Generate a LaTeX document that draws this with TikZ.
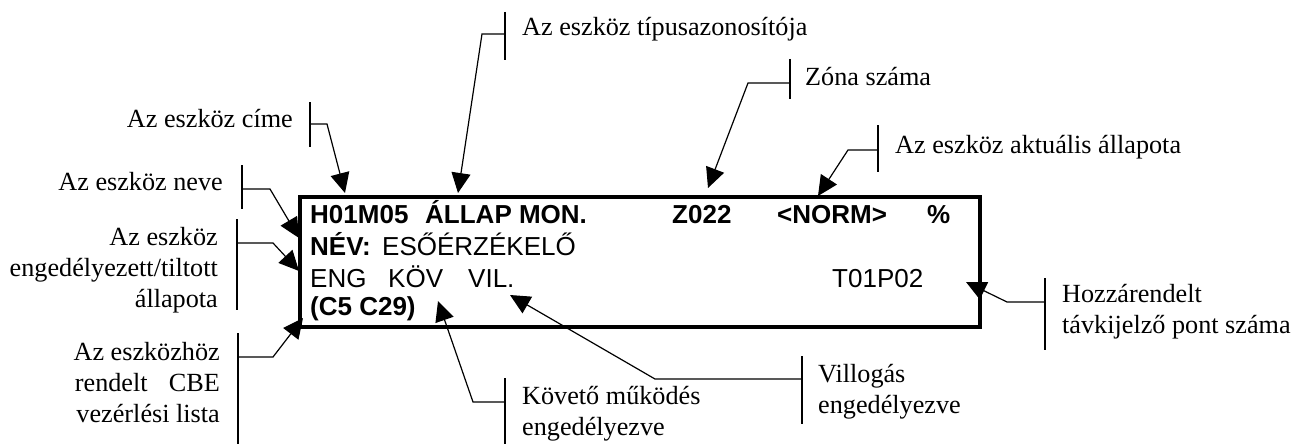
\documentclass[tikz,border=0pt]{standalone}
\usepackage{fontspec}
\usetikzlibrary{arrows.meta}
\newfontfamily\labfont{Liberation Serif}
\newfontfamily\dispfont{Liberation Sans}
\tikzset{
  lbl/.style={font=\labfont\fontsize{26.2}{31}\selectfont, inner sep=0pt},
  lbll/.style={lbl, anchor=base west, align=left},
  lblr/.style={lbl, anchor=base east, align=right},
  disp/.style={font=\dispfont\fontsize{26}{31}\selectfont, inner sep=0pt, anchor=base west},
  dispb/.style={disp, font=\dispfont\bfseries\fontsize{26}{31}\selectfont},
  brk/.style={line width=1.3pt},
  con/.style={line width=1.2pt, -{Triangle[length=20pt,width=19pt]}},
  screen/.style={draw, line width=3.5pt, minimum width=680pt, minimum height=130pt, inner sep=0pt}
}
\begin{document}
\begin{tikzpicture}[x=1pt,y=-1pt]
\useasboundingbox (0,0) rectangle (1296,444);

% display box
\node[screen] (box) at (640,262) {};
\node[dispb] (l1a) at (310,223) {H01M05};
\node[dispb] (l1b) at (425,223) {ÁLLAP MON.};
\node[dispb] (l1c) at (672,223) {Z022};
\node[dispb] (l1d) at (777,223) {<NORM>};
\node[dispb] (l1e) at (927,223) {\%};
\node[dispb] (l2a) at (310,255) {NÉV:};
\node[disp]  (l2b) at (382,255) {ESŐÉRZÉKELŐ};
\node[disp]  (l3a) at (310,287) {ENG};
\node[disp]  (l3b) at (388,287) {KÖV};
\node[disp]  (l3c) at (468,287) {VIL.};
\node[disp]  (l3d) at (832,287) {T01P02};
\node[dispb] (l4a) at (310,315) {(C5 C29)};

% labels (multi-line nodes: base = baseline of the last line)
\node[lblr] (cime) at (293,127) {Az eszköz címe};
\node[lblr] (neve) at (223,190) {Az eszköz neve};
\node[lblr] (eng) at (218,307) {Az eszköz\\engedélyezett/tiltott\\állapota};
\node[lblr] (cbe) at (220,422) {Az eszközhöz\\rendelt\hspace{21.2pt}CBE\\vezérlési lista};
\node[lbll] (tipus) at (522,36) {Az eszköz típusazonosítója};
\node[lbll] (zona) at (805,85) {Zóna száma};
\node[lbll] (allapot) at (895,153) {Az eszköz aktuális állapota};
\node[lbll] (tav) at (1062,333) {Hozzárendelt\\távkijelző pont száma};
\node[lbll] (kov) at (522,435) {Követő működés\\engedélyezve};
\node[lbll] (vil) at (818,413) {Villogás\\engedélyezve};

% coordinates: bracket ends, joints, bends, tips
\coordinate (cimeT) at (310,102); \coordinate (cimeB) at (310,147);
\coordinate (cimeJ) at (310,124); \coordinate (cimeK) at (327,124); \coordinate (cimeP) at (345,193);
\coordinate (neveT) at (242,165); \coordinate (neveB) at (242,209);
\coordinate (neveJ) at (242,189); \coordinate (neveK) at (270,189); \coordinate (neveP) at (299,238);
\coordinate (engT) at (237,219); \coordinate (engB) at (237,310);
\coordinate (engJ) at (237,243); \coordinate (engK) at (273,243); \coordinate (engP) at (299,271);
\coordinate (cbeT) at (238,333); \coordinate (cbeB) at (238,444);
\coordinate (cbeJ) at (238,357); \coordinate (cbeK) at (273,357); \coordinate (cbeP) at (303,318);
\coordinate (tipT) at (505,12); \coordinate (tipB) at (505,60);
\coordinate (tipJ) at (505,34); \coordinate (tipK) at (482,34); \coordinate (tipP) at (458,193);
\coordinate (zonT) at (790,59); \coordinate (zonB) at (790,99);
\coordinate (zonJ) at (790,83); \coordinate (zonK) at (748,83); \coordinate (zonP) at (708,188);
\coordinate (allT) at (878,125); \coordinate (allB) at (878,172);
\coordinate (allJ) at (878,150); \coordinate (allK) at (848,150); \coordinate (allP) at (818,196);
\coordinate (tavT) at (1045,278); \coordinate (tavB) at (1045,350);
\coordinate (tavJ) at (1045,302); \coordinate (tavK) at (1007,302); \coordinate (tavP) at (966,282);
\coordinate (kovT) at (505,378); \coordinate (kovB) at (505,444);
\coordinate (kovJ) at (505,402); \coordinate (kovK) at (473,402); \coordinate (kovP) at (438,301);
\coordinate (vilT) at (802,356); \coordinate (vilB) at (802,424);
\coordinate (vilJ) at (802,379); \coordinate (vilK) at (655,379); \coordinate (vilP) at (510,295);

\foreach \n in {cime,neve,eng,cbe,tip,zon,all,tav,kov,vil}{
  \draw[brk] (\n T) -- (\n B);
  \draw[con] (\n J) -- (\n K) -- (\n P);
}
\end{tikzpicture}
\end{document}
